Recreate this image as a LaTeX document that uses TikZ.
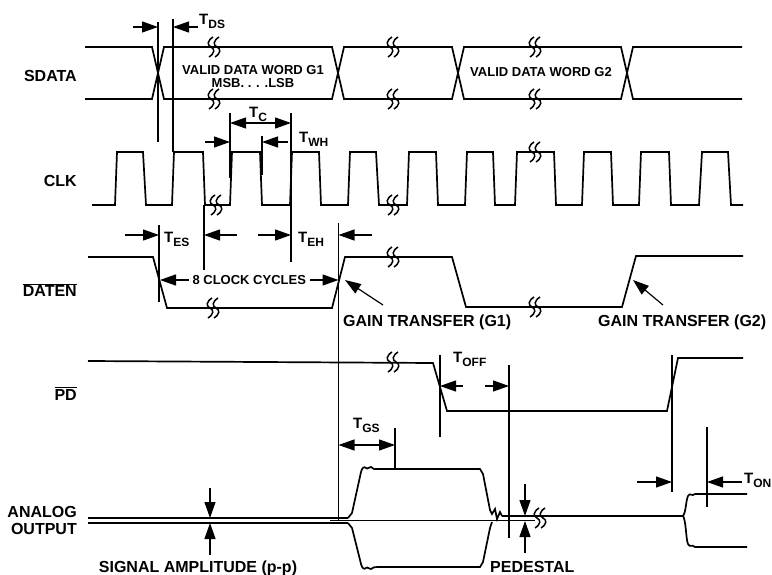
\documentclass[tikz,border=0pt]{standalone}
\usepackage{fontspec}
\setmainfont{Liberation Sans}
\usetikzlibrary{arrows.meta}
\begin{document}
\begin{tikzpicture}[x=1pt,y=-1pt,
  sig/.style={line width=1.7pt, line join=miter},
  tline/.style={line width=1.1pt},
  tip/.tip={Triangle[length=16pt 0 0,width=11pt 0 0]},
  arr/.style={line width=1.2pt, -tip},
  darr/.style={line width=1.2pt, tip-tip},
  lbl/.style={font=\bfseries\fontsize{16}{18}\selectfont, inner sep=0pt},
  sml/.style={font=\bfseries\fontsize{13}{15}\selectfont, inner sep=0pt},
  tl/.style={font=\bfseries\fontsize{15}{17}\selectfont, inner sep=0pt},
  brk/.pic={
    \draw[line width=1.5pt] (-1,-10) .. controls (-7,-6) and (-7,-2) .. (-3,0) .. controls (1,2) and (1,6) .. (-5,10);
    \draw[line width=1.5pt] (5,-10) .. controls (-1,-6) and (-1,-2) .. (3,0) .. controls (7,2) and (7,6) .. (1,10);
  }
]
\useasboundingbox (0,0) rectangle (772,575);

% ---- left labels
\node[lbl, anchor=base east] (lsdata) at (77,82) {SDATA};
\node[lbl, anchor=base east] (lclk) at (77,187) {CLK};
\node[lbl, anchor=base east] (ldaten) at (77,297) {$\overline{\hbox{DATEN}}$};
\node[lbl, anchor=base east] (lpd) at (77,400) {$\overline{\hbox{PD}}$};
\node[lbl, anchor=base east] (lana) at (77,517) {ANALOG};
\node[lbl, anchor=base east] (lout) at (77,534) {OUTPUT};

% ---- SDATA
\draw[sig] (85,47) -- (152,47) -- (164,99) -- (332,99) -- (344,47) -- (452,47) -- (464,99) -- (621,99) -- (633,47) -- (742,47);
\draw[sig] (85,99) -- (152,99) -- (164,47) -- (332,47) -- (344,99) -- (452,99) -- (464,47) -- (621,47) -- (633,99) -- (742,99);
\pic at (214,47) {brk}; \pic at (214,99) {brk};
\pic at (393,47) {brk}; \pic at (393,99) {brk};
\pic at (535,47) {brk}; \pic at (535,99) {brk};
\node[sml, anchor=base] (g1a) at (253,75) {VALID DATA WORD G1};
\node[sml, anchor=base] (g1b) at (253,88) {MSB. . . .LSB};
\node[sml, anchor=base] (g2) at (541,77) {VALID DATA WORD G2};

% ---- CLK
\draw[sig] (92,205) -- (115,205) -- (117,152) -- (143,152) -- (146,205) -- (172,205) -- (174,152) -- (203,152) -- (205,205)
  -- (230,205) -- (232,152) -- (260,152) -- (262,205) -- (290,205) -- (292,152) -- (319,152) -- (321,205)
  -- (348,205) -- (350,152) -- (376,152) -- (379,205) -- (407,205) -- (409,152) -- (436,152) -- (438,205)
  -- (465,205) -- (467,152) -- (493,152) -- (495,205) -- (515,205) -- (517,152) -- (554,152) -- (556,205)
  -- (582,205) -- (584,152) -- (611,152) -- (613,205) -- (639,205) -- (641,152) -- (669,152) -- (671,205)
  -- (699,205) -- (702,152) -- (728,152) -- (731,205) -- (743,205);
\pic at (216,205) {brk}; \pic at (393,205) {brk}; \pic at (535,152) {brk};

% ---- DATEN
\draw[sig] (88,257) -- (153,257) -- (167,308) -- (332,308) -- (345,257) -- (452,257) -- (466,307) -- (622,307) -- (636,256) -- (743,256);
\pic at (213,308) {brk}; \pic at (393,257) {brk}; \pic at (535,307) {brk};

% ---- PD
\draw[sig] (88,361) -- (433,363) -- (447,411) -- (667,411) -- (678,358) -- (743,358);
\pic at (393,362) {brk};

% ---- ANALOG OUTPUT
\draw[line width=1.2pt] (88,518) -- (348,518);
\draw[line width=1.2pt] (88,523) -- (348,523);
\draw[line width=0.8pt] (330,520.5) -- (535,520.5);
\draw[sig] (348,518) -- (352,513) -- (361,472) .. controls (362,468) and (364,466) .. (366,468)
  .. controls (368,470) and (369,466) .. (371,467) .. controls (373,469) and (375,470) .. (378,469)
  -- (480,469) -- (483,474) -- (490,510) -- (492,514) -- (495,509) -- (497,519) -- (500,512) -- (502,516);
\draw[sig] (348,523) -- (352,528) -- (361,564) .. controls (362,568) and (364,570) .. (366,568)
  .. controls (368,566) and (369,570) .. (371,569) .. controls (373,567) and (375,567) .. (378,567)
  -- (480,567) -- (483,562) -- (490,528) -- (492,522);
\draw[sig] (502,516) -- (683,516);
\pic at (540,518) {brk};
\draw[sig] (683,516) .. controls (686,512) and (686,500) .. (688,496) .. controls (690,492) and (692,497) .. (695,494) -- (747,494);
\draw[sig] (683,516) .. controls (686,520) and (686,540) .. (688,544) .. controls (690,548) and (692,544) .. (695,547) -- (747,547);

% ---- timing marks
% T_DS
\draw[tline] (158,22) -- (158,142);
\draw[tline] (173,19) -- (173,152);
\coordinate (ds1) at (133,27); \coordinate (ds1e) at (158,27);
\coordinate (ds2) at (198,27); \coordinate (ds2e) at (173,27);
\draw[arr] (ds1) -- (ds1e);
\draw[arr] (ds2) -- (ds2e);
\node[tl, anchor=base west] (tds) at (199,25) {T\raisebox{-4pt}{\fontsize{12}{13}\selectfont DS}};

% T_C
\draw[tline] (230,113) -- (230,178);
\draw[tline] (291,113) -- (291,262);
\coordinate (tc1) at (230,123); \coordinate (tc2) at (291,123);
\draw[darr] (tc1) -- (tc2);
\node[tl, anchor=base west] (tc) at (249,118) {T\raisebox{-4pt}{\fontsize{12}{13}\selectfont C}};

% T_WH
\draw[tline] (262,136) -- (262,175);
\coordinate (wh1) at (205,142); \coordinate (wh1e) at (230,142);
\coordinate (wh2) at (288,142); \coordinate (wh2e) at (262,142);
\draw[arr] (wh1) -- (wh1e);
\draw[arr] (wh2) -- (wh2e);
\node[tl, anchor=base west] (twh) at (299,143) {T\raisebox{-4pt}{\fontsize{12}{13}\selectfont WH}};

% T_ES
\draw[tline] (159,225) -- (159,302);
\draw[tline] (204,205) -- (204,270);
\coordinate (es1) at (125,235); \coordinate (es1e) at (159,235);
\coordinate (es2) at (237,235); \coordinate (es2e) at (204,235);
\draw[arr] (es1) -- (es1e);
\draw[arr] (es2) -- (es2e);
\node[tl, anchor=base west] (tes) at (164,243) {T\raisebox{-4pt}{\fontsize{12}{13}\selectfont ES}};

% T_EH
\draw[tline] (338.5,223) -- (338.5,520);
\coordinate (eh1) at (258,235); \coordinate (eh1e) at (291,235);
\coordinate (eh2) at (372,235); \coordinate (eh2e) at (338.5,235);
\draw[arr] (eh1) -- (eh1e);
\draw[arr] (eh2) -- (eh2e);
\node[tl, anchor=base west] (teh) at (298,243) {T\raisebox{-4pt}{\fontsize{12}{13}\selectfont EH}};

% 8 clock cycles
\coordinate (cc1) at (160,280); \coordinate (cc2) at (338.5,280);
\draw[darr] (cc1) -- (cc2) node[sml, midway, fill=white, inner xsep=4pt, inner ysep=2pt] (ccl) {8 CLOCK CYCLES};

% gain transfer
\coordinate (gt1t) at (383,305); \coordinate (gt1h) at (345,280);
\draw[arr] (gt1t) -- (gt1h);
\node[lbl, anchor=base west] (gt1) at (343,326) {GAIN TRANSFER (G1)};
\coordinate (gt2t) at (663,305); \coordinate (gt2h) at (633,280);
\draw[arr] (gt2t) -- (gt2h);
\node[lbl, anchor=base west] (gt2) at (598,326) {GAIN TRANSFER (G2)};

% T_OFF
\draw[tline] (440,355) -- (440,437);
\draw[tline] (509,365) -- (509,538);
\coordinate (of1) at (463,386); \coordinate (of1e) at (440,386);
\coordinate (of2) at (485,386); \coordinate (of2e) at (509,386);
\draw[arr] (of1) -- (of1e);
\draw[arr] (of2) -- (of2e);
\node[tl, anchor=base west] (toff) at (453,362) {T\raisebox{-4pt}{\fontsize{12}{13}\selectfont OFF}};

% T_GS
\draw[tline] (395,428) -- (395,468);
\coordinate (gs1) at (338.5,445); \coordinate (gs2) at (395,445);
\draw[darr] (gs1) -- (gs2);
\node[tl, anchor=base west] (tgs) at (353,428) {T\raisebox{-4pt}{\fontsize{12}{13}\selectfont GS}};

% signal amplitude
\coordinate (sa1) at (210,488); \coordinate (sa1e) at (210,518);
\coordinate (sa2) at (210,555); \coordinate (sa2e) at (210,523);
\draw[arr] (sa1) -- (sa1e);
\draw[arr] (sa2) -- (sa2e);
\node[lbl, anchor=base] (sal) at (198,572) {SIGNAL AMPLITUDE (p-p)};

% pedestal
\coordinate (pe1) at (525,484); \coordinate (pe1e) at (525,516);
\coordinate (pe2) at (525,553); \coordinate (pe2e) at (525,521);
\draw[arr] (pe1) -- (pe1e);
\draw[arr] (pe2) -- (pe2e);
\node[lbl, anchor=base west] (pel) at (490,572) {PEDESTAL};

% T_ON
\draw[tline] (672,355) -- (672,492);
\draw[tline] (707,427) -- (707,507);
\coordinate (on1) at (637,482); \coordinate (on1e) at (672,482);
\coordinate (on2) at (742,482); \coordinate (on2e) at (707,482);
\draw[arr] (on1) -- (on1e);
\draw[arr] (on2) -- (on2e);
\node[tl, anchor=base west] (ton) at (744,483) {T\raisebox{-4pt}{\fontsize{12}{13}\selectfont ON}};
\end{tikzpicture}
\end{document}
